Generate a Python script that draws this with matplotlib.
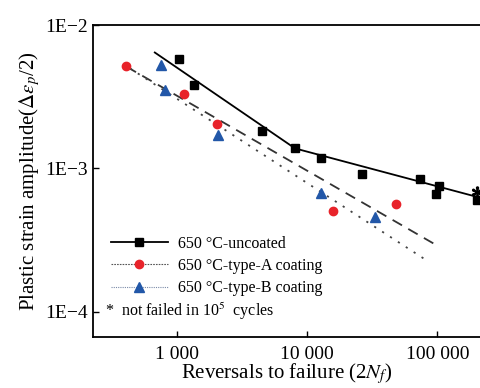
import matplotlib
matplotlib.use('Agg')
from matplotlib import pyplot as plt
from matplotlib.lines import Line2D
from matplotlib.ticker import FixedLocator, FuncFormatter, NullLocator

plt.rcParams['font.family'] = 'Liberation Serif'
plt.rcParams['mathtext.fontset'] = 'stix'

# measured points
uncoated_n = [1036, 1365, 4477, 8090, 12900, 26500, 74000, 103000, 98100, 203000]
uncoated_e = [5.77e-3, 3.82e-3, 1.82e-3, 1.38e-3, 1.19e-3, 9.08e-4, 8.43e-4, 7.57e-4, 6.62e-4, 6.05e-4]
type_a_n = [407, 1144, 2052, 15800, 47800]
type_a_e = [5.21e-3, 3.29e-3, 2.03e-3, 5.07e-4, 5.64e-4]
type_b_n = [762, 813, 2080, 12800, 33500]
type_b_e = [5.26e-3, 3.52e-3, 1.72e-3, 6.71e-4, 4.61e-4]
runout_n = [203000]
runout_e = [6.84e-4]

# fitted lines
fit_uncoated_n = [678, 8090, 220000]
fit_uncoated_e = [6.45e-3, 1.38e-3, 6.2e-4]
fit_a_n = [412, 93700]
fit_a_e = [5.13e-3, 2.99e-4]
fit_b_n = [437, 84700]
fit_b_e = [5.0e-3, 2.25e-4]

legend_labels = ['650 °C-uncoated', '650 °C-type-A coating', '650 °C-type-B coating']
x_ticks = [1000, 10000, 100000]
y_ticks = [1e-4, 1e-3, 1e-2]
y_tick_labels = ['1E\u22124', '1E\u22123', '1E\u22122']

red = '#e8232a'
blue = '#2257a8'

fig = plt.figure(figsize=(4.8, 3.88), dpi=100)
ax = fig.add_axes([0.193, 0.131, 0.81, 0.804])

ax.plot(fit_uncoated_n, fit_uncoated_e, color='black', lw=1.3)
ax.plot(fit_a_n, fit_a_e, color='#333333', lw=1.3, ls=(0, (6, 4)))
ax.plot(fit_b_n, fit_b_e, color='#444444', lw=1.3, ls=(0, (1.2, 4)))

ax.plot(uncoated_n, uncoated_e, 's', color='black', ms=5.5, ls='none')
ax.plot(type_a_n, type_a_e, 'o', color=red, ms=6, ls='none')
ax.plot(type_b_n, type_b_e, '^', color=blue, ms=6.5, ls='none')
ax.plot(runout_n, runout_e, marker='$*$', color='black', ms=8, ls='none', clip_on=False)

ax.set_xscale('log')
ax.set_yscale('log')
ax.set_xlim(226, 218000)
ax.set_ylim(6.64e-5, 1e-2)

ax.xaxis.set_major_locator(FixedLocator(x_ticks))
ax.xaxis.set_minor_locator(NullLocator())
ax.xaxis.set_major_formatter(FuncFormatter(lambda x, pos: f'{int(round(x)):,}'.replace(',', ' ')))
ax.yaxis.set_major_locator(FixedLocator(y_ticks))
ax.yaxis.set_minor_locator(NullLocator())
ax.set_yticklabels(y_tick_labels)
ax.tick_params(direction='in', length=4, width=1, labelsize=14)
ax.tick_params(axis='x', pad=6)

for side in ['left', 'bottom', 'top']:
    ax.spines[side].set_linewidth(1.3)
ax.spines['right'].set_visible(False)

ax.set_xlabel('Reversals to failure (2$N_f$)', fontsize=15, labelpad=-1)
ax.set_ylabel(r'Plastic strain amplitude($\Delta\varepsilon_p$/2)', fontsize=15, labelpad=2)

handles = [
    Line2D([], [], color='black', lw=1.3, marker='s', ms=5.5),
    Line2D([], [], color='#555555', lw=0.8, ls=(0, (1.5, 1)), marker='o', ms=6,
           markerfacecolor=red, markeredgecolor=red),
    Line2D([], [], color='#7a8aa8', lw=0.8, ls=(0, (1, 1)), marker='^', ms=6.5,
           markerfacecolor=blue, markeredgecolor=blue),
]
ax.legend(handles, legend_labels, loc='lower left', bbox_to_anchor=(0.03, 0.11),
          frameon=False, fontsize=11.5, handlelength=3.6, handletextpad=0.6,
          labelspacing=0.4, borderaxespad=0)

ax.text(0.033, 0.082, '*  not failed in 10$^5$  cycles', transform=ax.transAxes,
        fontsize=11.5, va='center', ha='left')

plt.savefig('out.png', dpi=100)
